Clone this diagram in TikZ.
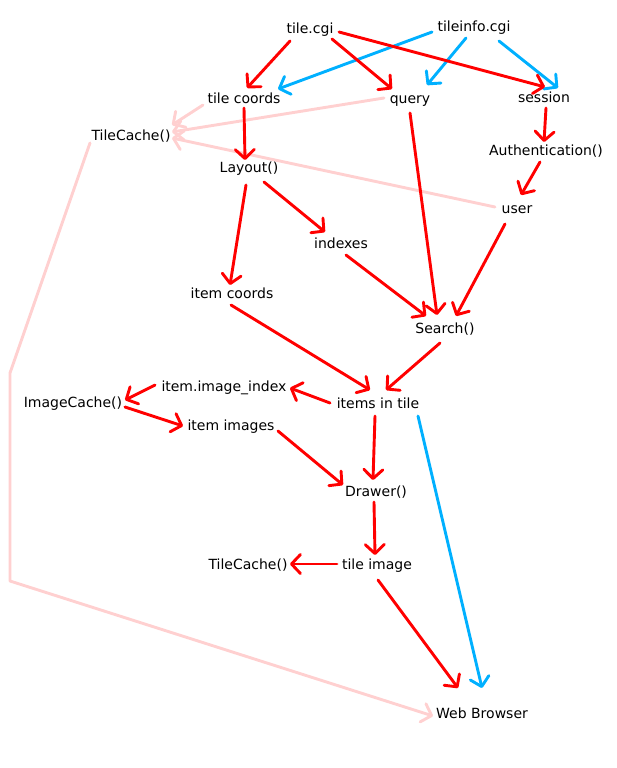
\documentclass[tikz,border=0pt]{standalone}
\usepackage{fontspec}
\setmainfont{DejaVu Sans}
\usetikzlibrary{arrows.meta}
\definecolor{cred}{RGB}{255,0,0}
\definecolor{cblue}{RGB}{0,176,255}
\definecolor{cpink}{RGB}{255,208,208}
\tikzset{
  lbl/.style={inner sep=0pt, text height=10.5pt, text depth=0pt, font=\fontsize{14}{16}\selectfont},
  rarr/.style={draw=cred, line width=2.9pt, line cap=round, line join=round, -{Straight Barb[length=9pt,width=19pt,line cap=round,line join=round]}},
  barr/.style={rarr, draw=cblue},
  parr/.style={rarr, draw=cpink},
}
\newcommand\conn[5]{\draw[#1] ([shift={#3}]#2.center) -- ([shift={#5}]#4.center);}
\begin{document}
\begin{tikzpicture}[x=1pt,y=-1pt]
\useasboundingbox (0,0) rectangle (617,768);
\node[lbl] (tilecgi) at (310,28) {tile.cgi};
\node[lbl] (tileinfo) at (474,26) {tileinfo.cgi};
\node[lbl] (tilecoords) at (244,98) {tile coords};
\node[lbl] (query) at (410,98) {query};
\node[lbl] (session) at (544,97) {session};
\node[lbl] (tc1) at (131,135) {TileCache()};
\node[lbl] (auth) at (546,150) {Authentication()};
\node[lbl] (layout) at (249,167) {Layout()};
\node[lbl] (user) at (517,208) {user};
\node[lbl] (indexes) at (341,243) {indexes};
\node[lbl] (itemcoords) at (232,293) {item coords};
\node[lbl] (search) at (445,328) {Search()};
\node[lbl] (imgindex) at (224,386) {item.image\_index};
\node[lbl] (imgcache) at (73,402) {ImageCache()};
\node[lbl] (items) at (378,403) {items in tile};
\node[lbl] (itemimages) at (231,425) {item images};
\node[lbl] (drawer) at (376,491) {Drawer()};
\node[lbl] (tc2) at (248,564) {TileCache()};
\node[lbl] (tileimage) at (377,564) {tile image};
\node[lbl] (web) at (482,713) {Web Browser};
\coordinate (bend1) at (10,373);
\coordinate (bend2) at (10,581);
% pink
\conn{parr}{tilecoords}{(-41,7)}{tc1}{(41,-10)}
\conn{parr}{query}{(-26,0)}{tc1}{(41,-3)}
\conn{parr}{user}{(-22,-1)}{tc1}{(41,3)}
\draw[parr] ([shift={(-41,8)}]tc1.center) -- (bend1) -- (bend2) -- ([shift={(-49,3)}]web.center);
% blue
\conn{barr}{tileinfo}{(-42,6)}{tilecoords}{(34,-9)}
\conn{barr}{tileinfo}{(-8,12)}{query}{(17,-13)}
\conn{barr}{tileinfo}{(25,15)}{session}{(14,-9)}
\conn{barr}{items}{(40,13)}{web}{(0,-25)}
% red
\conn{rarr}{tilecgi}{(-20,13)}{tilecoords}{(3,-10)}
\conn{rarr}{tilecgi}{(22,11)}{query}{(-18,-9)}
\conn{rarr}{tilecgi}{(29,4)}{session}{(1,-10)}
\conn{rarr}{tilecoords}{(0,10)}{layout}{(-4,-7)}
\conn{rarr}{layout}{(-3,18)}{itemcoords}{(-2,-8)}
\conn{rarr}{layout}{(15,15)}{indexes}{(-16,-11)}
\conn{rarr}{query}{(0,15)}{search}{(-8,-13)}
\conn{rarr}{session}{(2,11)}{auth}{(-2,-8)}
\conn{rarr}{auth}{(-6,12)}{user}{(4,-13)}
\conn{rarr}{user}{(-12,16)}{search}{(11,-12)}
\conn{rarr}{indexes}{(5,12)}{search}{(-19,-12)}
\conn{rarr}{itemcoords}{(-1,12)}{items}{(-8,-13)}
\conn{rarr}{search}{(-5,15)}{items}{(8,-13)}
\conn{rarr}{items}{(-48,0)}{imgindex}{(66,2)}
\conn{rarr}{imgindex}{(-69,-1)}{imgcache}{(52,-2)}
\conn{rarr}{imgcache}{(52,5)}{itemimages}{(-48,1)}
\conn{rarr}{itemimages}{(47,6)}{drawer}{(-33,-6)}
\conn{rarr}{items}{(-3,13)}{drawer}{(-3,-11)}
\conn{rarr}{drawer}{(-2,11)}{tileimage}{(-2,-9)}
\conn{rarr}{tileimage}{(-40,0)}{tc2}{(42,0)}
\conn{rarr}{tileimage}{(1,16)}{web}{(-24,-25)}
\end{tikzpicture}
\end{document}
